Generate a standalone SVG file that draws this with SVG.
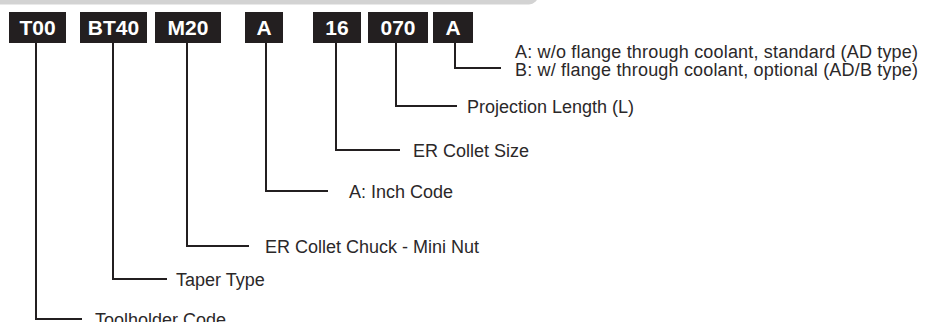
<svg xmlns="http://www.w3.org/2000/svg" width="925" height="322" viewBox="0 0 925 322">
<style>
.box{fill:#231f20}
.code{font-family:"Liberation Sans",Arial,sans-serif;font-weight:bold;font-size:21px;fill:#fff;text-anchor:middle}
.lbl{font-family:"Liberation Sans",Arial,sans-serif;font-size:18px;fill:#2b2829}
.lead{fill:none;stroke:#231f20;stroke-width:2}
</style>
<rect x="-20" y="-20" width="558" height="24.5" rx="9" fill="#d3d3d3"/>
<g id="n-t00"><rect class="box" x="9" y="12" width="57" height="31"/><text class="code" x="37.5" y="35">T00</text></g>
<g id="n-bt40"><rect class="box" x="80" y="12" width="67" height="31"/><text class="code" x="113.5" y="35">BT40</text></g>
<g id="n-m20"><rect class="box" x="155" y="12" width="66" height="31"/><text class="code" x="188" y="35">M20</text></g>
<g id="n-a1"><rect class="box" x="245" y="12" width="38" height="31"/><text class="code" x="264" y="35">A</text></g>
<g id="n-16"><rect class="box" x="313" y="12" width="48" height="31"/><text class="code" x="337" y="35">16</text></g>
<g id="n-070"><rect class="box" x="368" y="12" width="60" height="31"/><text class="code" x="398" y="35">070</text></g>
<g id="n-a2"><rect class="box" x="433" y="12" width="40" height="31"/><text class="code" x="453" y="35">A</text></g>
<g id="connectors">
<polyline class="lead" points="455,43 455,68 501,68"/>
<polyline class="lead" points="396,43 396,106 457,106"/>
<polyline class="lead" points="336,43 336,150 400,150"/>
<polyline class="lead" points="266,43 266,191 328,191"/>
<polyline class="lead" points="187,43 187,246 249,246"/>
<polyline class="lead" points="113,43 113,279 167,279"/>
<polyline class="lead" points="36,43 36,319 82,319"/>
</g>
<g id="labels">
<text class="lbl" x="515" y="58" textLength="403" lengthAdjust="spacing">A: w/o flange through coolant, standard (AD type)</text>
<text class="lbl" x="515" y="76" textLength="403" lengthAdjust="spacing">B: w/ flange through coolant, optional (AD/B type)</text>
<text class="lbl" x="467" y="113">Projection Length (L)</text>
<text class="lbl" x="413" y="157">ER Collet Size</text>
<text class="lbl" x="349" y="198">A: Inch Code</text>
<text class="lbl" x="265" y="253">ER Collet Chuck - Mini Nut</text>
<text class="lbl" x="176" y="286">Taper Type</text>
<text class="lbl" x="95" y="326">Toolholder Code</text>
</g>
</svg>
